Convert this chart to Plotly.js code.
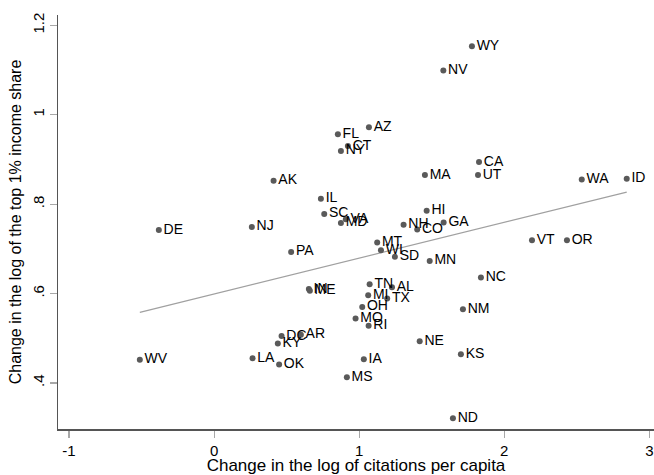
<!DOCTYPE html>
<html>
<head>
<meta charset="utf-8">
<script src="https://cdn.plot.ly/plotly-3.0.1.min.js"></script>
<style>html,body{margin:0;padding:0;background:#fff;}#chart{width:654px;height:475px;}</style>
</head>
<body>
<div id="chart"></div>
<script>
// Data
var states = ["WY","NV","AZ","FL","CT","NY","AK","MA","CA","UT","WA","ID","IL","SC","VA","MD","NJ","DE","HI","NH","CO","GA","MT","WI","SD","PA","MN","VT","OR","NC","IN","ME","TN","AL","MI","TX","OH","NM","MO","RI","DC","AR","KY","NE","WV","LA","OK","KS","IA","MS","ND"];
var citations = [1.777,1.580,1.067,0.853,0.922,0.874,0.410,1.453,1.826,1.819,2.534,2.844,0.736,0.759,0.908,0.874,0.260,-0.381,1.465,1.306,1.400,1.582,1.124,1.150,1.246,0.531,1.486,2.191,2.432,1.839,0.653,0.660,1.072,1.226,1.062,1.193,1.021,1.715,0.975,1.065,0.465,0.598,0.439,1.417,-0.512,0.265,0.448,1.701,1.032,0.915,1.646];
var topShare = [1.153,1.099,0.972,0.956,0.930,0.919,0.852,0.865,0.894,0.865,0.855,0.857,0.812,0.778,0.766,0.758,0.749,0.742,0.785,0.754,0.743,0.759,0.714,0.697,0.682,0.693,0.673,0.719,0.719,0.636,0.610,0.606,0.621,0.614,0.596,0.589,0.570,0.565,0.544,0.528,0.505,0.508,0.488,0.493,0.452,0.455,0.441,0.464,0.453,0.413,0.321];
var fitX = [-0.512, 2.844];
var fitY = [0.558, 0.827];
var xTickVals = [-1,0,1,2,3];
var xTickText = ["-1","0","1","2","3"];
var yTickVals = [0.4,0.6,0.8,1,1.2];
var yTickText = [".4",".6",".8","1","1.2"];

var font = "Liberation Sans, Arial, sans-serif";
var traces = [
  {x: fitX, y: fitY, type: "scatter", mode: "lines", line: {color: "#a0a0a0", width: 1.2}, hoverinfo: "skip", showlegend: false},
  {x: citations, y: topShare, text: states, type: "scatter", mode: "markers+text", textposition: "middle right",
   marker: {color: "#5a5a5a", size: 6}, textfont: {family: font, size: 14, color: "#000"}, cliponaxis: false, showlegend: false}
];
var layout = {
  width: 654, height: 475,
  margin: {l: 58.3, r: 0, t: 15, b: 46.3},
  paper_bgcolor: "#fff", plot_bgcolor: "#fff",
  font: {family: font, color: "#000"},
  xaxis: {range: [-1.076, 3.032], tickvals: xTickVals, ticktext: xTickText, showgrid: false, zeroline: false,
    showline: true, linecolor: "#555", linewidth: 1.5, ticks: "outside", ticklen: 7, tickcolor: "#a8a8a8", tickwidth: 1.2,
    tickfont: {size: 15, family: font, color: "#000"},
    title: {text: "Change in the log of citations per capita", font: {size: 17, family: font, color: "#000"}, standoff: 0},
    automargin: false},
  yaxis: {range: [0.297, 1.223], tickvals: yTickVals, ticktext: yTickText, showgrid: false, zeroline: false,
    showline: true, linecolor: "#555", linewidth: 1.5, ticks: "outside", ticklen: 7, tickcolor: "#a8a8a8", tickwidth: 1.2,
    tickangle: -90, tickfont: {size: 15, family: font, color: "#000"},
    title: {text: "Change in the log of the top 1% income share", font: {size: 16, family: font, color: "#000"}, standoff: 4},
    automargin: false}
};
Plotly.newPlot("chart", traces, layout, {displayModeBar: false, staticPlot: true});
</script>
</body>
</html>
